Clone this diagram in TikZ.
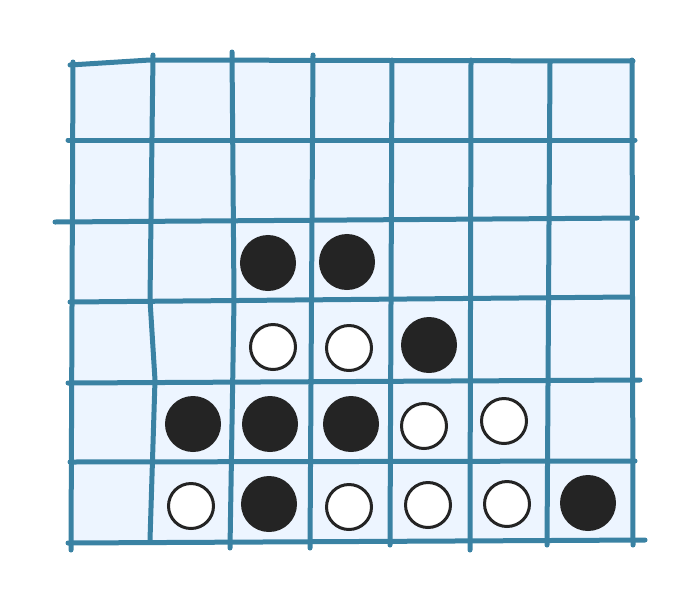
\documentclass[tikz,border=0pt]{standalone}
\begin{document}
\begin{tikzpicture}[x=1pt,y=-1pt,
  gridline/.style={draw=gridblue,line width=5pt,line cap=round,line join=round},
  blackstone/.style={circle,draw=stoneblack,fill=stoneblack,line width=3pt,minimum size=53pt,inner sep=0pt},
  whitestone/.style={circle,draw=stoneblack,fill=white,line width=3pt,minimum size=45pt,inner sep=0pt}]
\definecolor{gridblue}{HTML}{3A82A3}
\definecolor{cellfill}{HTML}{EDF5FF}
\definecolor{stoneblack}{HTML}{242424}
\useasboundingbox (0,0) rectangle (700,600);
\fill[cellfill] (72,62) rectangle (632,542);
% horizontal lines
\draw[gridline] (70,65) -- (150,60) -- (633,61);
\draw[gridline] (68,140) -- (635,140);
\draw[gridline] (55,222) -- (637,218);
\draw[gridline] (70,302) -- (630,297);
\draw[gridline] (68,383) -- (640,380);
\draw[gridline] (70,462) -- (635,461);
\draw[gridline] (68,543) -- (645,540);
% vertical lines
\draw[gridline] (73,62) -- (71,550);
\draw[gridline] (153,55) -- (150,300) -- (155,380) -- (150,540);
\draw[gridline] (232,52) -- (234,300) -- (230,548);
\draw[gridline] (313,55) -- (310,548);
\draw[gridline] (392,60) -- (390,545);
\draw[gridline] (471,60) -- (470,550);
\draw[gridline] (550,62) -- (547,545);
\draw[gridline] (632,60) -- (633,545);
% stones
\node[blackstone] (b1) at (268,263) {};
\node[blackstone] (b2) at (347,262) {};
\node[whitestone] (w1) at (273,347) {};
\node[whitestone] (w2) at (349,348) {};
\node[blackstone] (b3) at (429,345) {};
\node[blackstone] (b4) at (193,424) {};
\node[blackstone] (b5) at (270,424) {};
\node[blackstone] (b6) at (351,424) {};
\node[whitestone] (w3) at (424,426) {};
\node[whitestone] (w4) at (504,421) {};
\node[whitestone] (w5) at (191,506) {};
\node[blackstone] (b7) at (269,504) {};
\node[whitestone] (w6) at (349,507) {};
\node[whitestone] (w7) at (428,505) {};
\node[whitestone] (w8) at (507,504) {};
\node[blackstone] (b8) at (588,503) {};
\end{tikzpicture}
\end{document}
